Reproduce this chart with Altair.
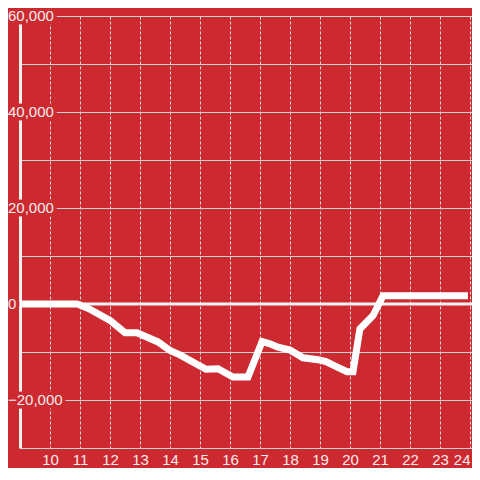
import altair as alt
import pandas as pd

# ---- data ----
hours = [9.0, 10.9, 11.0, 11.3, 12.0, 12.5, 12.9, 13.6, 14.0, 14.33, 15.2, 15.6,
         16.1, 16.6, 17.07, 17.33, 17.6, 18.0, 18.43, 18.93, 19.2, 19.56, 19.9,
         20.1, 20.33, 20.77, 21.1, 23.93]
values = [0, 0, -200, -1000, -3400, -6000, -6000, -7900, -9700, -10600, -13600,
          -13500, -15200, -15200, -7800, -8300, -9000, -9600, -11200, -11600,
          -12000, -13100, -14100, -14100, -5200, -2400, 1700, 1700]
x_ticks = [10, 11, 12, 13, 14, 15, 16, 17, 18, 19, 20, 21, 22, 23, 24]
y_grid = [-30000, -20000, -10000, 0, 10000, 20000, 30000, 40000, 50000, 60000]
y_labels = [-20000, 0, 20000, 40000, 60000]
zero = [0]

BG = "#cc2a30"
LABEL = "#f6ecec"
FONT = "Liberation Sans"

df = pd.DataFrame({"h": hours, "v": values})
lab_df = pd.DataFrame({"v": y_labels})
zero_df = pd.DataFrame({"v": zero})

xs = alt.Scale(domain=[9, 24.067], nice=False, zero=False)
ys = alt.Scale(domain=[-30000, 60000], nice=False)

line = alt.Chart(df).mark_line(color="#ffffff", strokeWidth=7).encode(
    x=alt.X("h:Q", scale=xs, title=None,
            axis=alt.Axis(values=x_ticks, grid=True, gridDash=[3, 2],
                          gridColor="#dcdcdc", gridWidth=1, ticks=False,
                          domainColor="#d0d0d0", domainWidth=1,
                          labelColor=LABEL, labelFont=FONT, labelFontSize=15,
                          labelPadding=4, labelFlush=4)),
    y=alt.Y("v:Q", scale=ys, title=None,
            axis=alt.Axis(values=y_grid, grid=True, gridColor="#d0d0d0",
                          gridWidth=1, ticks=False, labels=False,
                          domainColor="#f0f0f0", domainWidth=3)),
)

zero_rule = alt.Chart(zero_df).mark_rule(color="#f4f4f4", strokeWidth=3).encode(
    y=alt.Y("v:Q", scale=ys)
)

halo = alt.Chart(lab_df).mark_text(
    align="left", baseline="middle", font=FONT, fontSize=15,
    fill=BG, stroke=BG, strokeWidth=7, strokeJoin="round"
).encode(
    x=alt.value(-12), y=alt.Y("v:Q", scale=ys),
    text=alt.Text("v:Q", format=","),
)

labels = alt.Chart(lab_df).mark_text(
    align="left", baseline="middle", font=FONT, fontSize=15, color=LABEL
).encode(
    x=alt.value(-12), y=alt.Y("v:Q", scale=ys),
    text=alt.Text("v:Q", format=","),
)

chart = alt.layer(zero_rule, line, halo, labels).properties(
    width=452, height=432, background=BG,
    padding={"left": 12, "top": 8, "right": 0, "bottom": 20},
    autosize=alt.AutoSizeParams(type="none"),
).configure_view(stroke=None)

chart.save("out.html", embed_options={"renderer": "svg", "actions": False})
